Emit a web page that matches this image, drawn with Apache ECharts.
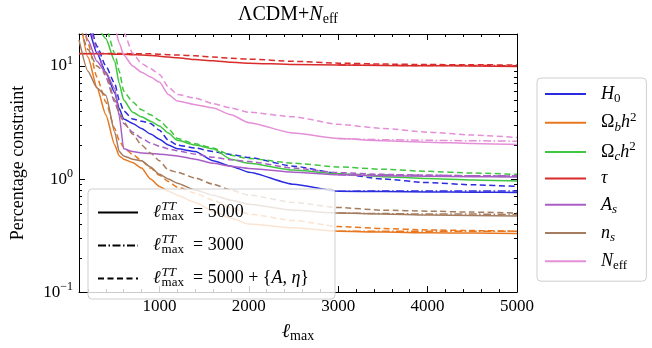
<!DOCTYPE html>
<html>
<head>
<meta charset="utf-8">
<script src="https://cdn.jsdelivr.net/npm/echarts@6/dist/echarts.min.js"></script>
<style>
  html, body { margin: 0; padding: 0; background: #fff; }
  #chart { width: 652px; height: 348px; }
</style>
</head>
<body>
<div id="chart"></div>
<script>
const ell = [100, 200, 300, 400, 500, 550, 600, 700, 800, 900, 1000, 1100, 1200, 1400, 1600, 1800, 2000, 2500, 3000, 3500, 4000, 4500, 5000]
// the l_max^TT = 3000 curves only split from the solid ones past 3000
const ellDD = [3000, 3500, 4000, 4500, 5000]

// percentage constraints, solid (l_max^TT = 5000)
const h0 = [40, 22, 13, 8.8, 5.8, 4.2, 3.4, 3.1, 2.8, 2.5, 2.25, 2.0, 1.85, 1.75, 1.45, 1.3, 1.15, 0.9, 0.78, 0.775, 0.77, 0.765, 0.76]
const ombh2 = [30, 12, 6.5, 3.7, 2.0, 1.6, 1.5, 1.4, 1.25, 1.0, 0.86, 0.78, 0.72, 0.62, 0.52, 0.45, 0.4, 0.37, 0.345, 0.34, 0.335, 0.333, 0.33]
const omch2 = [90, 35, 22, 17.5, 11, 7, 5, 3.9, 3.55, 3.25, 2.95, 2.55, 2.2, 2.0, 1.85, 1.5, 1.38, 1.2, 1.11, 1.05, 1.01, 0.98, 0.96]
const tau = [12.8, 12.8, 12.8, 12.8, 12.7, 12.7, 12.7, 12.6, 12.5, 12.4, 12.2, 12.0, 11.8, 11.4, 11.1, 10.8, 10.6, 10.3, 10.2, 10.1, 10.05, 10.0, 9.9]
const As = [50, 17, 11, 8.8, 6.3, 3.6, 1.85, 1.75, 1.7, 1.68, 1.66, 1.63, 1.6, 1.5, 1.38, 1.3, 1.24, 1.15, 1.09, 1.07, 1.06, 1.05, 1.04]
const ns = [17, 9, 6.4, 5.5, 2.6, 1.75, 1.6, 1.5, 1.45, 1.28, 1.1, 1.0, 0.92, 0.8, 0.72, 0.65, 0.6, 0.53, 0.5, 0.49, 0.48, 0.475, 0.47]
const neff = [200, 100, 60, 35, 22, 16, 12.5, 10, 8.8, 8.0, 7.2, 5.6, 4.9, 4.55, 4.25, 3.7, 3.15, 2.55, 2.28, 2.18, 2.12, 2.06, 2.02]

// dashed (l_max^TT = 5000 + {A, eta})
const h0Fg = [60, 28, 15, 10, 7, 5, 4, 3.4, 3.25, 3.1, 2.7, 2.2, 2.0, 1.88, 1.75, 1.65, 1.55, 1.3, 1.12, 1.0, 0.93, 0.89, 0.86]
const ombh2Fg = [40, 16, 8, 4.8, 2.8, 2.2, 1.9, 1.65, 1.45, 1.25, 1.08, 0.95, 0.85, 0.75, 0.65, 0.56, 0.49, 0.43, 0.38, 0.365, 0.355, 0.35, 0.345]
const omch2Fg = [100, 40, 28, 22, 13, 9, 6, 4.8, 4.1, 3.7, 3.3, 2.8, 2.28, 2.05, 1.88, 1.62, 1.52, 1.38, 1.28, 1.22, 1.17, 1.13, 1.1]
const tauFg = [12.9, 12.9, 12.9, 12.9, 12.9, 12.9, 12.9, 12.8, 12.8, 12.8, 12.7, 12.6, 12.5, 12.3, 12.0, 11.7, 11.5, 11.0, 10.6, 10.4, 10.3, 10.25, 10.2]
const AsFg = [60, 25, 14, 8, 4.8, 3.8, 3.1, 2.6, 2.3, 2.08, 1.95, 1.85, 1.78, 1.66, 1.56, 1.48, 1.43, 1.25, 1.14, 1.1, 1.08, 1.07, 1.06]
const nsFg = [25, 14, 10, 8.5, 5, 4, 3.2, 2.5, 2.0, 1.7, 1.45, 1.2, 1.15, 1.02, 0.9, 0.8, 0.72, 0.62, 0.56, 0.53, 0.52, 0.51, 0.5]
const neffFg = [250, 120, 80, 50, 30, 24, 20, 13, 10.5, 9.5, 8.4, 6.5, 5.6, 5.2, 4.65, 4.25, 3.9, 3.55, 3.05, 2.8, 2.6, 2.45, 2.33]

// dash-dot (l_max^TT = 3000), on ellDD
const h0TT3 = [0.78, 0.785, 0.785, 0.785, 0.785]
const ombh2TT3 = [0.345, 0.346, 0.346, 0.346, 0.346]
const omch2TT3 = [1.11, 1.09, 1.07, 1.06, 1.05]
const tauTT3 = [10.2, 10.15, 10.1, 10.1, 10.05]
const AsTT3 = [1.09, 1.08, 1.08, 1.07, 1.07]
const nsTT3 = [0.5, 0.495, 0.49, 0.49, 0.485]
const neffTT3 = [2.28, 2.23, 2.2, 2.18, 2.16]

const xMajor = [1000, 2000, 3000, 4000, 5000]
const xMinor = [200, 400, 600, 800, 1200, 1400, 1600, 1800, 2200, 2400, 2600, 2800, 3200, 3400, 3600, 3800, 4200, 4400, 4600, 4800]
const yMajor = [-1, 0, 1]
const yMinor = [0.2, 0.3, 0.4, 0.5, 0.6, 0.7, 0.8, 0.9, 2, 3, 4, 5, 6, 7, 8, 9].map(Math.log10)

const params = [
  { key: 'H0', color: '#2b2be0', solid: h0, fg: h0Fg, tt3: h0TT3 },
  { key: 'ombh2', color: '#e8771f', solid: ombh2, fg: ombh2Fg, tt3: ombh2TT3 },
  { key: 'omch2', color: '#40c640', solid: omch2, fg: omch2Fg, tt3: omch2TT3 },
  { key: 'tau', color: '#d92b2b', solid: tau, fg: tauFg, tt3: tauTT3 },
  { key: 'As', color: '#a95ec6', solid: As, fg: AsFg, tt3: AsTT3 },
  { key: 'ns', color: '#a57c5f', solid: ns, fg: nsFg, tt3: nsTT3 },
  { key: 'Neff', color: '#e48fd8', solid: neff, fg: neffFg, tt3: neffTT3 },
]

const SERIF = '"Liberation Serif", "DejaVu Serif", serif'
const DASHED = [6, 3.5]
const DASHDOT = [8, 2.5, 1.5, 2.5]

const richText = (size, lh) => {
  const base = { fontFamily: SERIF, fontSize: size, lineHeight: lh, color: '#000', fontWeight: 'normal' }
  const small = Object.assign({}, base, { fontSize: Math.round(size * 0.72) })
  return {
    r: base,
    i: Object.assign({}, base, { fontStyle: 'italic' }),
    sub: Object.assign({}, small, { padding: [9, 0, 0, 0] }),
    subi: Object.assign({}, small, { fontStyle: 'italic', padding: [9, 0, 0, 0] }),
    sup: Object.assign({}, small, { padding: [0, 0, 10, 0] }),
    supi: Object.assign({}, small, { fontStyle: 'italic', padding: [0, 0, 12, 1], width: 0.1 }),
  }
}

const paramLabels = {
  H0: '{i|H}{sub|0}',
  ombh2: '{r|Ω}{subi|b}{i|h}{sup|2}',
  omch2: '{r|Ω}{subi|c}{i|h}{sup|2}',
  tau: '{i|τ}',
  As: '{i|A}{subi|s}',
  ns: '{i|n}{subi|s}',
  Neff: '{i|N}{sub|eff}',
}
const lmaxTT = '{i|ℓ}{supi|TT}{sub|max}'
const styleLabels = {
  s5000: lmaxTT + '{r|  = 5000}',
  s3000: lmaxTT + '{r|  = 3000}',
  sFg: lmaxTT + '{r|  = 5000 + {}{i|A}{r|, }{i|η}}',
}

const toLog = (xs, ys) => xs.map((x, i) => [x, Math.log10(ys[i])])

const line = (name, data, color, type) => ({
  name,
  type: 'line',
  data,
  symbol: 'none',
  smooth: 0.2,
  smoothMonotone: 'x',
  silent: true,
  color,
  lineStyle: { color, width: 1.5, type },
})

const series = []
params.forEach(p => {
  series.push(line(p.key, toLog(ell, p.solid), p.color, 'solid'))
  series.push(line(p.key + '_tt3', toLog(ellDD, p.tt3), p.color, DASHDOT))
  series.push(line(p.key + '_fg', toLog(ell, p.fg), p.color, DASHED))
})
// legend-only entries for the line styles
series.push(line('s5000', [], '#000', 'solid'))
series.push(line('s3000', [], '#000', DASHDOT))
series.push(line('sFg', [], '#000', DASHED))

const yMax = 1.283

const xAxisBase = {
  type: 'value', min: 100, max: 5000, gridIndex: 0,
  splitLine: { show: false },
  axisLine: { show: true, onZero: false, lineStyle: { color: '#000', width: 1 } },
  axisLabel: { show: false },
}
const yAxisBase = {
  type: 'value', min: -1, max: yMax, gridIndex: 0,
  splitLine: { show: false },
  axisLine: { show: true, onZero: false, lineStyle: { color: '#000', width: 1 } },
  axisLabel: { show: false },
}
const tick = (vals, len) => ({ show: true, inside: true, length: len, customValues: vals, lineStyle: { color: '#000', width: 1 } })
const noLine = { show: false, onZero: false }

const legendText = { fontFamily: SERIF, fontSize: 18, color: '#000', fontWeight: 'normal', padding: [0, 0, 0, 10] }

const chart = echarts.init(document.getElementById('chart'))
chart.setOption({
  animation: false,
  backgroundColor: '#fff',
  title: {
    text: '{r|ΛCDM+}{i|N}{sub|eff}',
    left: 238,
    top: 3,
    padding: 0,
    textStyle: { fontWeight: 'normal', rich: richText(20, 24) },
  },
  grid: { left: 79, right: 135, top: 34, bottom: 48, containLabel: false },
  xAxis: [
    Object.assign({}, xAxisBase, {
      position: 'bottom',
      axisTick: tick(xMajor, 6),
      axisLabel: {
        show: true, customValues: xMajor, margin: 6,
        formatter: v => String(v),
        fontFamily: SERIF, fontSize: 17, color: '#000',
      },
      name: '{i|ℓ}{sub|max}',
      nameLocation: 'middle',
      nameGap: 17,
      nameTextStyle: { rich: richText(20, 24), verticalAlign: 'top' },
    }),
    Object.assign({}, xAxisBase, { position: 'bottom', axisLine: noLine, axisTick: tick(xMinor, 3) }),
    Object.assign({}, xAxisBase, { position: 'top', axisTick: tick(xMajor, 6) }),
    Object.assign({}, xAxisBase, { position: 'top', axisLine: noLine, axisTick: tick(xMinor, 3) }),
  ],
  yAxis: [
    Object.assign({}, yAxisBase, {
      position: 'left',
      axisTick: tick(yMajor, 6),
      axisLabel: {
        show: true, customValues: yMajor, margin: 6,
        formatter: v => '{r|10}{sup|' + (v < 0 ? '−' + (-v) : v) + '}',
        rich: richText(17, 22),
      },
      name: 'Percentage constraint',
      nameLocation: 'middle',
      nameRotate: 90,
      nameGap: 52,
      nameTextStyle: { fontFamily: SERIF, fontSize: 18, color: '#000' },
    }),
    Object.assign({}, yAxisBase, { position: 'left', axisLine: noLine, axisTick: tick(yMinor, 3) }),
    Object.assign({}, yAxisBase, { position: 'right', axisTick: tick(yMajor, 6) }),
    Object.assign({}, yAxisBase, { position: 'right', axisLine: noLine, axisTick: tick(yMinor, 3) }),
  ],
  legend: [
    {
      data: params.map(p => p.key),
      orient: 'vertical',
      left: 537,
      top: 78,
      padding: [5, 10, 9, 7],
      itemWidth: 41,
      itemHeight: 14,
      itemGap: 6.2,
      selectedMode: false,
      backgroundColor: '#fff',
      borderColor: '#cfcfcf',
      borderWidth: 1,
      borderRadius: 4,
      itemStyle: { opacity: 0 },
      formatter: name => paramLabels[name],
      textStyle: Object.assign({}, legendText, { rich: richText(18, 22) }),
    },
    {
      data: ['s5000', 's3000', 'sFg'],
      orient: 'vertical',
      left: 88,
      top: 189,
      padding: [11, 26, 8, 9],
      itemWidth: 40,
      itemHeight: 14,
      itemGap: 8,
      selectedMode: false,
      backgroundColor: 'rgba(255,255,255,0.8)',
      borderColor: '#cfcfcf',
      borderWidth: 1,
      borderRadius: 4,
      itemStyle: { opacity: 0 },
      formatter: name => styleLabels[name],
      textStyle: Object.assign({}, legendText, { rich: richText(18, 24) }),
    },
  ],
  series,
})
</script>
</body>
</html>
